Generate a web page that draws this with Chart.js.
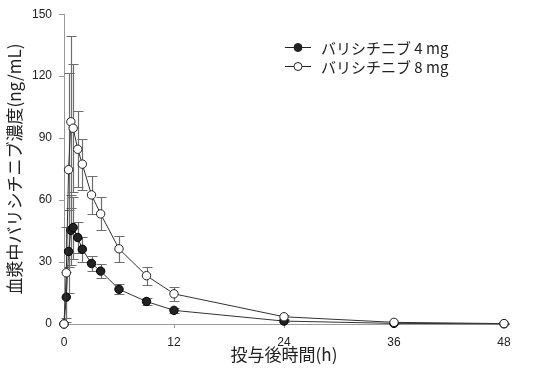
<!DOCTYPE html>
<html><head><meta charset="utf-8">
<script src="https://cdn.jsdelivr.net/npm/chart.js@4"></script>
<style>html,body{margin:0;padding:0;background:#fff}#wrap{width:551px;height:376px}</style>
</head><body><div id="wrap"><canvas id="c" width="551" height="376"></canvas></div>
<script>
const times = [0, 0.25, 0.5, 0.75, 1, 1.5, 2, 3, 4, 6, 9, 12, 24, 36, 48];
const conc4 = [0, 13, 35.1, 45.4, 46.7, 41.9, 36.2, 29.3, 25.6, 16.8, 10.9, 6.6, 1.4, 0.3, 0.1];
const sd4   = [0, 12, 20, 17, 15, 7.5, 6, 3.8, 3.3, 2.5, 1.8, 1.2, 0.6, 0.2, 0.1];
const conc8 = [0, 24.8, 74.7, 97.9, 94.8, 84.6, 77.4, 62.5, 53.3, 36.4, 23.4, 14.6, 3.5, 0.8, 0.2];
const sd8   = [0, 22, 47, 41.5, 31, 18.5, 12.3, 9.3, 8, 6.3, 4.4, 3.5, 1, 0.3, 0.1];
const xTicks = [0, 12, 24, 36, 48];
const yTicks = [0, 30, 60, 90, 120, 150];
const seriesNames = ['バリシチニブ 4 mg', 'バリシチニブ 8 mg'];
const xTitle = '投与後時間(h)';
const yTitle = '血漿中バリシチニブ濃度(ng/mL)';

const CJK = '"Noto Sans CJK JP", "Noto Sans", sans-serif';
const NUM = '"Liberation Sans", Arial, sans-serif';

function pts(vals){ return times.map((t,i)=>({x:t, y:vals[i]})); }

const errorBars = {
  id: 'errorBars',
  beforeDatasetsDraw(chart){
    const {ctx, scales:{x, y}} = chart;
    ctx.save();
    chart.data.datasets.forEach(ds => {
      ds.data.forEach((p, i) => {
        const e = ds.sd[i];
        if (!e) return;
        const px = Math.round(x.getPixelForValue(p.x)) + 0.5;
        const top = Math.round(y.getPixelForValue(p.y + e)) + 0.5;
        const bot = Math.round(y.getPixelForValue(Math.max(0, p.y - e))) + 0.5;
        ctx.strokeStyle = ds.errColor;
        ctx.lineWidth = 1.2;
        ctx.beginPath();
        ctx.moveTo(px, top); ctx.lineTo(px, bot);
        ctx.moveTo(px - 5, top); ctx.lineTo(px + 5, top);
        ctx.moveTo(px - 5, bot); ctx.lineTo(px + 5, bot);
        ctx.stroke();
      });
    });
    ctx.restore();
  }
};

const legendPlugin = {
  id: 'customLegend',
  afterDraw(chart){
    const ctx = chart.ctx;
    ctx.save();
    chart.data.datasets.forEach((ds, i) => {
      const cy = 47 + i * 19;
      ctx.strokeStyle = '#222';
      ctx.lineWidth = 1;
      ctx.beginPath();
      ctx.moveTo(285, cy + 0.5); ctx.lineTo(311, cy + 0.5);
      ctx.stroke();
      ctx.beginPath();
      ctx.arc(298, cy + 0.5, 4, 0, Math.PI * 2);
      ctx.fillStyle = ds.pointBackgroundColor;
      ctx.fill();
      ctx.stroke();
      ctx.fillStyle = '#222';
      ctx.font = '15px ' + CJK;
      ctx.textBaseline = 'middle';
      ctx.textAlign = 'left';
      ctx.fillText(ds.label, 321, cy + 1);
    });
    ctx.restore();
  }
};

new Chart(document.getElementById('c'), {
  type: 'scatter',
  data: {
    datasets: [
      {
        label: seriesNames[0], data: pts(conc4), sd: sd4, errColor: '#6e6e6e',
        showLine: true, borderColor: '#333', borderWidth: 1,
        pointRadius: 4.2, pointBackgroundColor: '#222', pointBorderColor: '#000', pointBorderWidth: 1,
        clip: false, order: 2
      },
      {
        label: seriesNames[1], data: pts(conc8), sd: sd8, errColor: '#6e6e6e',
        showLine: true, borderColor: '#333', borderWidth: 1,
        pointRadius: 4.2, pointBackgroundColor: '#fff', pointBorderColor: '#222', pointBorderWidth: 1,
        clip: false, order: 1
      }
    ]
  },
  options: {
    responsive: false, animation: false, devicePixelRatio: 1,
    layout: { padding: { left: 0, right: 47, top: 8, bottom: 0 } },
    plugins: { legend: { display: false }, tooltip: { enabled: false } },
    scales: {
      x: {
        type: 'linear', min: 0, max: 48,
        afterBuildTicks: s => { s.ticks = xTicks.map(v => ({ value: v })); },
        afterFit: s => { s.height = 52; },
        grid: { drawOnChartArea: false, drawTicks: true, tickLength: 4, color: '#999' },
        border: { color: '#999', width: 1 },
        ticks: { color: '#222', font: { family: NUM, size: 12 }, padding: 7, maxRotation: 0 },
        title: { display: true, text: xTitle, color: '#222', font: { family: CJK, size: 17 }, padding: { top: 0, bottom: 11 } }
      },
      y: {
        type: 'linear', min: 0, max: 150,
        afterBuildTicks: s => { s.ticks = yTicks.map(v => ({ value: v })); },
        afterFit: s => { s.width = 64; },
        grid: { drawOnChartArea: false, drawTicks: true, tickLength: 5, color: '#999' },
        border: { color: '#999', width: 1 },
        ticks: { color: '#222', font: { family: NUM, size: 12 }, padding: 7 },
        title: { display: true, text: yTitle, color: '#222', font: { family: CJK, size: 17 }, padding: { top: 4, bottom: 0 } }
      }
    }
  },
  plugins: [errorBars, legendPlugin]
});
</script></body></html>
